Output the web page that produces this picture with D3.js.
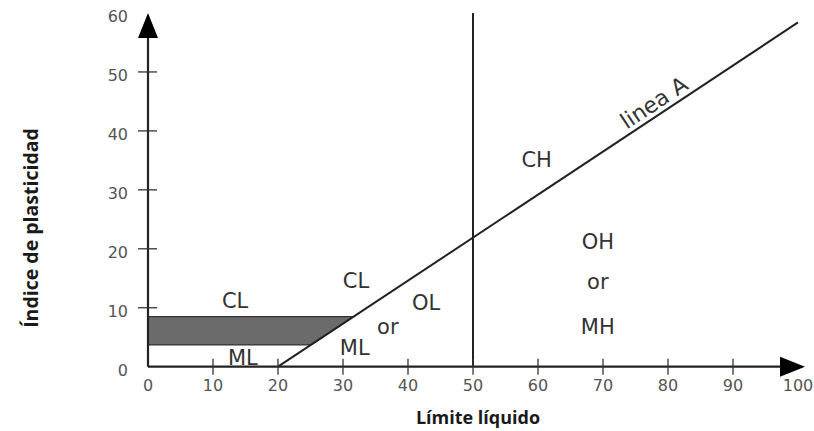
<!DOCTYPE html>
<html>
<head>
<meta charset="utf-8">
<script src="https://cdn.jsdelivr.net/npm/d3@7"></script>
<style>
  html, body { margin: 0; padding: 0; background: #fff; }
  svg { display: block; }
</style>
</head>
<body>
<svg id="chart" width="814" height="431"></svg>
<script>
// Plasticity chart (liquid limit vs plasticity index)
const xTicks = [0, 10, 20, 30, 40, 50, 60, 70, 80, 90, 100];
const yTicks = [0, 10, 20, 30, 40, 50, 60];
const aLineSlope = 0.73;          // A-line: PI = 0.73 (LL - 20)
const aLineOrigin = 20;
const aLineEnd = 100;
const dividerLL = 50;             // LL = 50 boundary
const bandPI = [3.7, 8.5];        // shaded CL-ML band
const zoneLabels = [
  { text: "CL", ll: 13.4, pi: 11.3 },
  { text: "ML", ll: 14.6, pi: 1.6 },
  { text: "CL", ll: 32.0, pi: 14.7 },
  { text: "ML", ll: 31.8, pi: 3.3 },
  { text: "or", ll: 36.9, pi: 6.9 },
  { text: "OL", ll: 42.8, pi: 10.9 },
  { text: "CH", ll: 59.8, pi: 35.1 },
  { text: "OH", ll: 69.2, pi: 21.2 },
  { text: "or", ll: 69.2, pi: 14.4 },
  { text: "MH", ll: 69.2, pi: 6.8 }
];
const aLineLabel = { text: "linea A", ll: 78.9 };
const xTitle = "Límite líquido";
const yTitle = "Índice de plasticidad";

const svg = d3.select("#chart");
const x = d3.scaleLinear().domain([0, 100]).range([148, 798]);
const y = d3.scaleLinear().domain([0, 60]).range([366.7, 13]);
const aLine = ll => aLineSlope * (ll - aLineOrigin);
const aLineInv = pi => aLineOrigin + pi / aLineSlope;

const ink = "#222";

// shaded band bounded on the right by the A-line
const bandPts = [
  [0, bandPI[0]], [0, bandPI[1]],
  [aLineInv(bandPI[1]), bandPI[1]], [aLineInv(bandPI[0]), bandPI[0]]
];
svg.append("path")
  .attr("d", d3.line().x(d => x(d[0])).y(d => y(d[1]))(bandPts) + "Z")
  .attr("fill", "#6b6b6b")
  .attr("stroke", "#333")
  .attr("stroke-width", 1.2);

// A-line
svg.append("line")
  .attr("x1", x(aLineOrigin)).attr("y1", y(0))
  .attr("x2", x(aLineEnd)).attr("y2", y(aLine(aLineEnd)))
  .attr("stroke", ink).attr("stroke-width", 2);

// LL = 50 divider
svg.append("line")
  .attr("x1", x(dividerLL)).attr("y1", y(0))
  .attr("x2", x(dividerLL)).attr("y2", y(60))
  .attr("stroke", ink).attr("stroke-width", 2);

// axes lines with arrowheads
svg.append("line")
  .attr("x1", x(0)).attr("y1", y(0)).attr("x2", x(100) + 2).attr("y2", y(0))
  .attr("stroke", ink).attr("stroke-width", 2.2);
svg.append("line")
  .attr("x1", x(0)).attr("y1", y(0)).attr("x2", x(0)).attr("y2", y(60) + 10)
  .attr("stroke", ink).attr("stroke-width", 2.2);
const xEnd = x(100) + 7;
svg.append("path")
  .attr("d", `M${xEnd},${y(0)} L${xEnd - 25},${y(0) - 10} L${xEnd - 25},${y(0) + 10}Z`)
  .attr("fill", "#000");
const yEnd = y(60);
svg.append("path")
  .attr("d", `M${x(0)},${yEnd} L${x(0) - 10},${yEnd + 25} L${x(0) + 10},${yEnd + 25}Z`)
  .attr("fill", "#000");

// crossing tick marks
const tickColor = "#333";
svg.append("g").selectAll("line")
  .data(xTicks.filter(t => t > 0 && t < 100))
  .join("line")
  .attr("x1", d => x(d)).attr("x2", d => x(d))
  .attr("y1", y(0) - 8).attr("y2", y(0) + 8)
  .attr("stroke", tickColor).attr("stroke-width", 1.3);
svg.append("g").selectAll("line")
  .data(yTicks.filter(t => t > 0 && t < 60))
  .join("line")
  .attr("y1", d => y(d)).attr("y2", d => y(d))
  .attr("x1", x(0) - 10).attr("x2", x(0) + 9)
  .attr("stroke", tickColor).attr("stroke-width", 1.3);

// tick labels
const tickFont = "'DejaVu Sans', sans-serif";
svg.append("g").selectAll("text")
  .data(xTicks)
  .join("text")
  .attr("x", d => x(d)).attr("y", y(0) + 24)
  .attr("text-anchor", "middle")
  .attr("font-family", tickFont).attr("font-size", 16)
  .attr("fill", "#555")
  .text(d => d);
svg.append("g").selectAll("text")
  .data(yTicks)
  .join("text")
  .attr("x", x(0) - 20).attr("y", d => y(d) + 9)
  .attr("text-anchor", "end")
  .attr("font-family", tickFont).attr("font-size", 16)
  .attr("fill", "#555")
  .text(d => d);

// zone labels
svg.append("g").selectAll("text")
  .data(zoneLabels)
  .join("text")
  .attr("x", d => x(d.ll)).attr("y", d => y(d.pi))
  .attr("dy", "0.36em")
  .attr("text-anchor", "middle")
  .attr("font-family", tickFont).attr("font-size", 21)
  .attr("fill", "#333")
  .text(d => d.text);

// A-line label along the line
const angle = -Math.atan2(y(0) - y(aLineSlope * 10), x(10) - x(0)) * 180 / Math.PI;
svg.append("text")
  .attr("transform", `translate(${x(aLineLabel.ll)},${y(aLine(aLineLabel.ll))}) rotate(${angle})`)
  .attr("dy", -5)
  .attr("text-anchor", "middle")
  .attr("font-family", tickFont).attr("font-size", 22)
  .attr("fill", "#333")
  .text(aLineLabel.text);

// axis titles
const titleFont = "'Open Sans', sans-serif";
svg.append("text")
  .attr("x", 478).attr("y", 424)
  .attr("text-anchor", "middle")
  .attr("font-family", titleFont).attr("font-weight", 700).attr("font-size", 18)
  .attr("fill", "#1a1a1a")
  .text(xTitle);
svg.append("text")
  .attr("transform", "translate(38,228) rotate(-90)")
  .attr("text-anchor", "middle")
  .attr("font-family", titleFont).attr("font-weight", 700).attr("font-size", 19.5)
  .attr("fill", "#1a1a1a")
  .text(yTitle);
</script>
</body>
</html>
